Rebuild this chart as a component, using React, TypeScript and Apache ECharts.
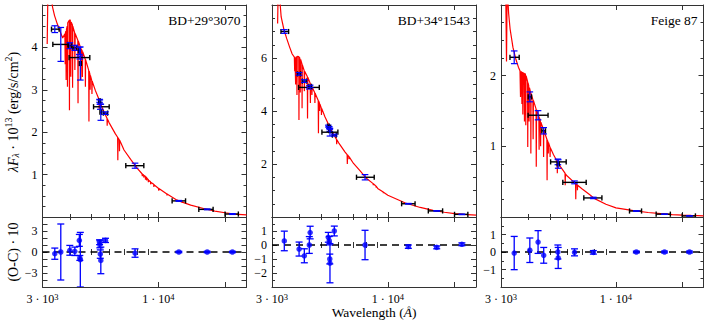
import React, { useEffect, useRef } from 'react';
import * as echarts from 'echarts';

// ---------- axis ranges / ticks ----------
const X_MIN = 3000;
const X_MAX = 25000;
const X_MAJOR_TICKS = [10000, 20000];
const X_MINOR_TICKS = [4000, 5000, 6000, 7000, 8000, 9000];
const X_LABEL_VALUES = [3000, 10000];

const STAR_NAMES = ['BD+29°3070', 'BD+34°1543', 'Feige 87'];
const FLUX_MAX = [5, 8, 3];
const FLUX_STEP = [1, 2, 1];
const FLUX_MINOR = [4, 4, 4];
const RES_MIN = [-5, -3, -2];
const RES_MAX = [5, 2, 2];
const RES_LABEL_STEP = [3, 1, 1];
const RES_MINOR = [0, 2, 2];

// ---------- BD+29°3070 ----------
const p1Wave = [3409, 3628, 3985, 4198, 4400, 4421, 4445, 5430, 5445, 5470, 5500, 5773, 7850, 12375, 16620, 21590];
const p1Flux = [4.43, 4.07, 4.04, 3.99, 3.92, 3.76, 3.62, 2.74, 2.71, 2.6, 2.47, 2.45, 1.21, 0.38, 0.18, 0.07];
const p1FluxErr = [0.08, 0.4, 0.07, 0.06, 0.085, 0.035, 0.39, 0.035, 0.05, 0.06, 0.19, 0.03, 0.06, 0.01, 0.01, 0.01];
const p1WaveLo = [3294, 3340, 3920, 4120, 4360, 3956, 4400, 5390, 5400, 5100, 5450, 5650, 7130, 11540, 15230, 20000];
const p1WaveHi = [3565, 3911, 4060, 4280, 4440, 4905, 4490, 5470, 5490, 6000, 5550, 5900, 8600, 13270, 17670, 22970];
const p1Res = [-0.24, 0.0, 0.24, 0.1, 1.66, -0.85, -1.1, 1.4, 1.1, -0.3, -1.2, 1.66, -0.15, 0.0, 0.0, 0.0];
const p1ResErr = [0.8, 4.0, 0.7, 0.6, 0.85, 0.35, 3.9, 0.35, 0.5, 0.6, 1.9, 0.3, 0.6, 0.1, 0.1, 0.1];
const p1Model: number[][] = [
  [3150, 4.08], [3175, 5.4], [3270, 5.3], [3330, 4.95], [3400, 4.75], [3500, 4.55], [3600, 4.38], [3700, 4.22],
  [3785, 4.32], [3798, 3.6], [3810, 4.36],
  [3825, 4.38], [3835, 3.23], [3848, 4.42], [3878, 4.5], [3889, 3.07], [3900, 4.58],
  [3962, 4.64], [3970, 2.52], [3980, 4.65],
  [4005, 4.64], [4026, 3.31], [4040, 4.6],
  [4095, 4.53], [4101, 3.05], [4110, 4.5],
  [4190, 4.35], [4200, 3.47], [4212, 4.33],
  [4330, 4.17], [4340, 2.68], [4352, 4.15],
  [4460, 3.99], [4471, 3.23], [4482, 3.97], [4530, 3.92], [4542, 3.3], [4555, 3.9],
  [4678, 3.72], [4686, 3.07], [4695, 3.71],
  [4850, 3.46], [4861, 2.25], [4872, 3.44],
  [4910, 3.37], [4922, 3.0], [4935, 3.34], [5005, 3.22], [5016, 2.9], [5028, 3.2],
  [5200, 2.98], [5400, 2.77], [5411, 2.55], [5422, 2.75], [5600, 2.55],
  [5865, 2.33], [5876, 2.15], [5890, 2.31], [6000, 2.22], [6400, 1.96],
  [6550, 1.88], [6563, 1.34], [6578, 1.87], [6665, 1.82], [6678, 1.55], [6692, 1.81],
  [7000, 1.58], [7500, 1.36], [8000, 1.16],
  [8440, 1.02], [8467, 0.96], [8490, 1.01], [8580, 0.99], [8598, 0.93], [8620, 0.98],
  [8730, 0.96], [8750, 0.88], [8770, 0.95], [8850, 0.93], [8863, 0.86], [8880, 0.92],
  [9000, 0.88], [9015, 0.82], [9030, 0.87], [9220, 0.83], [9229, 0.77], [9240, 0.82],
  [9530, 0.77], [9546, 0.71], [9560, 0.76], [10000, 0.68], [10040, 0.67], [10049, 0.62], [10060, 0.67],
  [10930, 0.54], [10938, 0.51], [10950, 0.54], [12000, 0.41], [12810, 0.35], [12818, 0.33], [12830, 0.35],
  [14000, 0.28], [16000, 0.2], [18000, 0.14], [20000, 0.1], [21650, 0.077], [21661, 0.07], [21675, 0.077],
  [22000, 0.07], [25000, 0.05],
];

// ---------- BD+34°1543 ----------
const p2Wave = [3409, 3975, 4198, 4421, 4460, 5387, 5440, 5470, 5480, 5733, 7890, 12375, 16620, 21590];
const p2Flux = [7.0, 5.4, 5.13, 4.89, 4.93, 3.43, 3.38, 3.26, 3.2, 3.09, 1.5, 0.5, 0.23, 0.1];
const p2FluxErr = [0.07, 0.05, 0.05, 0.06, 0.045, 0.035, 0.03, 0.035, 0.145, 0.035, 0.1, 0.012, 0.01, 0.01];
const p2WaveLo = [3294, 3910, 4110, 3956, 4400, 5340, 5390, 5420, 5040, 5620, 7220, 11540, 15230, 20000];
const p2WaveHi = [3565, 4040, 4290, 4905, 4520, 5440, 5490, 5520, 5950, 5850, 8680, 13270, 17670, 22970];
const p2Res = [0.29, -0.29, -0.77, 0.0, 0.89, 0.55, 0.31, -1.0, -1.3, 1.0, 0.0, -0.12, -0.17, 0.05];
const p2ResErr = [0.7, 0.5, 0.5, 0.6, 0.45, 0.35, 0.3, 0.35, 1.4, 0.35, 1.05, 0.12, 0.1, 0.1];
const p2Model: number[][] = [
  [3180, 7.3], [3200, 8.6], [3250, 8.25], [3300, 7.55], [3400, 7.05], [3500, 6.72], [3600, 6.42], [3700, 6.15],
  [3785, 6.03], [3798, 5.5], [3810, 6.02],
  [3825, 6.02], [3835, 5.0], [3848, 6.03], [3878, 6.05], [3889, 4.6], [3900, 6.06],
  [3962, 6.05], [3970, 3.66], [3980, 6.04],
  [4005, 6.0], [4026, 4.7], [4040, 5.95],
  [4095, 5.78], [4101, 4.1], [4110, 5.75],
  [4190, 5.53], [4200, 4.75], [4212, 5.5],
  [4330, 5.3], [4340, 3.72], [4352, 5.27],
  [4460, 5.05], [4471, 4.3], [4482, 5.02], [4530, 4.93], [4542, 4.6], [4555, 4.9],
  [4678, 4.69], [4686, 4.3], [4695, 4.67],
  [4850, 4.4], [4861, 3.16], [4872, 4.38],
  [4910, 4.3], [4922, 4.0], [4935, 4.27], [5005, 4.12], [5016, 3.85], [5028, 4.1],
  [5200, 3.78], [5400, 3.49], [5411, 3.2], [5422, 3.47], [5600, 3.22],
  [5865, 2.93], [5876, 2.75], [5890, 2.91], [6000, 2.8], [6400, 2.46],
  [6550, 2.35], [6563, 2.0], [6578, 2.34], [6665, 2.28], [6678, 2.18], [6692, 2.27],
  [7000, 2.02], [7500, 1.74], [8000, 1.46], [8580, 1.26], [8598, 1.2], [8620, 1.25],
  [8850, 1.16], [8863, 1.11], [8880, 1.15], [9000, 1.08], [9530, 0.94], [9546, 0.9], [9560, 0.93],
  [10000, 0.82], [12000, 0.53], [14000, 0.36], [16000, 0.25], [18000, 0.18], [20000, 0.13],
  [22000, 0.1], [25000, 0.07],
];

// ---------- Feige 87 ----------
const p3Wave = [3445, 4057, 4423, 4692, 5442, 5460, 6477, 7890, 12375, 16620, 21590];
const p3Flux = [2.26, 1.7, 1.44, 1.22, 0.78, 0.75, 0.49, 0.27, 0.085, 0.04, 0.015];
const p3FluxErr = [0.09, 0.07, 0.065, 0.045, 0.04, 0.06, 0.02, 0.01, 0.004, 0.003, 0.002];
const p3WaveLo = [3295, 3990, 3985, 4600, 5044, 5400, 5730, 7140, 11520, 15230, 20000];
const p3WaveHi = [3630, 4130, 4910, 4780, 5937, 5520, 7320, 8630, 13070, 17670, 22970];
const p3Res = [-0.06, 0.1, 0.57, -0.19, 0.0, -0.34, -0.02, -0.02, 0.0, 0.0, 0.0];
const p3ResErr = [0.95, 0.7, 0.65, 0.45, 0.4, 0.6, 0.2, 0.1, 0.05, 0.05, 0.05];
const p3Model: number[][] = [
  [3150, 3.3], [3178, 2.2], [3200, 3.25], [3250, 2.88], [3300, 2.66], [3400, 2.4], [3500, 2.24], [3600, 2.12],
  [3660, 2.07], [3680, 1.7], [3695, 2.06], [3720, 2.05], [3734, 1.6], [3745, 2.05],
  [3760, 2.04], [3771, 1.45], [3782, 2.04],
  [3825, 2.03], [3835, 1.35], [3845, 2.03], [3875, 2.02], [3889, 1.3], [3900, 2.0],
  [3962, 1.92], [3970, 0.99], [3980, 1.9],
  [4010, 1.86], [4026, 1.35], [4040, 1.83],
  [4095, 1.76], [4101, 0.9], [4110, 1.75],
  [4190, 1.66], [4200, 1.1], [4212, 1.65],
  [4330, 1.53], [4340, 0.71], [4352, 1.52],
  [4460, 1.42], [4471, 0.95], [4482, 1.41], [4530, 1.36], [4542, 1.0], [4555, 1.34],
  [4678, 1.24], [4686, 0.85], [4695, 1.23],
  [4850, 1.1], [4861, 0.52], [4872, 1.09],
  [4910, 1.06], [4922, 0.9], [4935, 1.05], [5005, 0.99], [5016, 0.85], [5028, 0.98],
  [5200, 0.88], [5400, 0.79], [5411, 0.62], [5422, 0.78], [5600, 0.71],
  [5865, 0.62], [5876, 0.45], [5890, 0.61], [6000, 0.58], [6400, 0.5],
  [6550, 0.47], [6563, 0.25], [6578, 0.47], [6665, 0.455], [6678, 0.38], [6692, 0.45],
  [7000, 0.4], [7500, 0.33], [8000, 0.26], [9000, 0.18], [10000, 0.13], [12000, 0.09],
  [14000, 0.064], [16000, 0.047], [18000, 0.035], [20000, 0.027], [22000, 0.022], [25000, 0.016],
];

const PANELS = [
  { wave: p1Wave, flux: p1Flux, err: p1FluxErr, lo: p1WaveLo, hi: p1WaveHi, res: p1Res, resErr: p1ResErr, model: p1Model },
  { wave: p2Wave, flux: p2Flux, err: p2FluxErr, lo: p2WaveLo, hi: p2WaveHi, res: p2Res, resErr: p2ResErr, model: p2Model },
  { wave: p3Wave, flux: p3Flux, err: p3FluxErr, lo: p3WaveLo, hi: p3WaveHi, res: p3Res, resErr: p3ResErr, model: p3Model },
];

// ---------- styling / layout ----------
const FONT = "'Liberation Serif', 'Times New Roman', serif";
const AXIS_COLOR = '#333';
const BLUE = '#0000ff';
const RED = '#ff0000';
const PANEL_LEFT = [42.5, 272, 501];
const PANEL_WIDTH = [204, 204, 202.5];
const TOP_Y = 5;
const TOP_H = 212;
const BOT_Y = 217;
const BOT_H = 70;

const fmtNum = (v: number) => {
  const r = Math.round(v * 1000) / 1000;
  return r < 0 ? '\u2212' + Math.abs(r) : String(r);
};

const X_RICH = {
  n: { fontFamily: FONT, fontSize: 12, color: '#000', lineHeight: 13, verticalAlign: 'bottom' },
  s: { fontFamily: FONT, fontSize: 8.5, color: '#000', lineHeight: 8, verticalAlign: 'top' },
};

const fmtX = (v: number) => {
  const r = Math.round(v);
  if (r === 3000) return '{n|3 · 10}{s|3}';
  if (r === 10000) return '{n|1 · 10}{s|4}';
  return '';
};

function makeXAxes(grid: number, showLabels: boolean) {
  const line = { show: true, onZero: false, lineStyle: { color: AXIS_COLOR, width: 1 } };
  const tickStyle = { color: AXIS_COLOR, width: 1 };
  const base = {
    type: 'log', logBase: 10, min: X_MIN, max: X_MAX, gridIndex: grid,
    splitLine: { show: false }, minorTick: { show: false }, minorSplitLine: { show: false },
  };
  return [
    {
      ...base, position: 'bottom', axisLine: line,
      axisTick: { show: true, inside: true, length: 5, customValues: X_MAJOR_TICKS, lineStyle: tickStyle },
      axisLabel: { show: showLabels, customValues: X_LABEL_VALUES, formatter: fmtX, rich: X_RICH, margin: 5 },
    },
    {
      ...base, position: 'bottom', axisLine: { show: false },
      axisTick: { show: true, inside: true, length: 3, customValues: X_MINOR_TICKS, lineStyle: tickStyle },
      axisLabel: { show: false },
    },
    {
      ...base, position: 'top', axisLine: line,
      axisTick: { show: true, inside: true, length: 5, customValues: X_MAJOR_TICKS, lineStyle: tickStyle },
      axisLabel: { show: false },
    },
    {
      ...base, position: 'top', axisLine: { show: false },
      axisTick: { show: true, inside: true, length: 3, customValues: X_MINOR_TICKS, lineStyle: tickStyle },
      axisLabel: { show: false },
    },
  ];
}

function makeYAxes(grid: number, min: number, max: number, interval: number, minor: number, labelStep: number) {
  const tickStyle = { color: AXIS_COLOR, width: 1 };
  const base = {
    type: 'value', gridIndex: grid, min, max, interval,
    splitLine: { show: false },
    axisLine: { show: true, onZero: false, lineStyle: { color: AXIS_COLOR, width: 1 } },
    axisTick: { show: true, inside: true, length: 5, lineStyle: tickStyle },
    minorTick: minor ? { show: true, splitNumber: minor, length: 3, lineStyle: tickStyle } : { show: false },
  };
  return [
    {
      ...base, position: 'left',
      axisLabel: {
        show: true, showMinLabel: false, showMaxLabel: false, margin: 5,
        fontFamily: FONT, fontSize: 12, color: '#000',
        formatter: (v: number) => {
          const r = Math.round(v * 1000) / 1000;
          if (r === min || r === max) return '';
          if (Math.abs(r % labelStep) > 1e-6) return '';
          return fmtNum(r);
        },
      },
    },
    { ...base, position: 'right', axisLabel: { show: false } },
  ];
}

function topBars(_params: any, api: any) {
  const x = api.value(0), y = api.value(1), e = api.value(2), lo = api.value(3), hi = api.value(4);
  const c = api.coord([x, y]);
  const t = api.coord([x, y + e]);
  const b = api.coord([x, y - e]);
  const l = api.coord([lo, y]);
  const r = api.coord([hi, y]);
  const blue = { stroke: BLUE, lineWidth: 1.2, fill: null };
  const black = { stroke: '#000', lineWidth: 1.4, fill: null };
  const cw = 3.3, ch = 2.6;
  return {
    type: 'group',
    children: [
      { type: 'line', shape: { x1: l[0], y1: c[1], x2: r[0], y2: c[1] }, style: black },
      { type: 'line', shape: { x1: l[0], y1: c[1] - ch, x2: l[0], y2: c[1] + ch }, style: black },
      { type: 'line', shape: { x1: r[0], y1: c[1] - ch, x2: r[0], y2: c[1] + ch }, style: black },
      { type: 'line', shape: { x1: c[0], y1: t[1], x2: c[0], y2: b[1] }, style: blue },
      { type: 'line', shape: { x1: c[0] - cw, y1: t[1], x2: c[0] + cw, y2: t[1] }, style: blue },
      { type: 'line', shape: { x1: c[0] - cw, y1: b[1], x2: c[0] + cw, y2: b[1] }, style: blue },
    ],
  };
}

function resBars(_params: any, api: any) {
  const x = api.value(0), y = api.value(1), e = api.value(2);
  const t = api.coord([x, y + e]);
  const b = api.coord([x, y - e]);
  const style = { stroke: BLUE, lineWidth: 1.3, fill: null };
  const cw = 3.5;
  return {
    type: 'group',
    children: [
      { type: 'line', shape: { x1: t[0], y1: t[1], x2: b[0], y2: b[1] }, style },
      { type: 'line', shape: { x1: t[0] - cw, y1: t[1], x2: t[0] + cw, y2: t[1] }, style },
      { type: 'line', shape: { x1: b[0] - cw, y1: b[1], x2: b[0] + cw, y2: b[1] }, style },
    ],
  };
}

function buildOption() {
  const grid: any[] = [];
  const xAxis: any[] = [];
  const yAxis: any[] = [];
  const series: any[] = [];

  PANELS.forEach((P, p) => {
    const gT = 2 * p;
    const gB = 2 * p + 1;
    grid.push({ left: PANEL_LEFT[p], top: TOP_Y, width: PANEL_WIDTH[p], height: TOP_H, containLabel: false });
    grid.push({ left: PANEL_LEFT[p], top: BOT_Y, width: PANEL_WIDTH[p], height: BOT_H, containLabel: false });
    xAxis.push(...makeXAxes(gT, false));
    xAxis.push(...makeXAxes(gB, true));
    yAxis.push(...makeYAxes(gT, 0, FLUX_MAX[p], FLUX_STEP[p], FLUX_MINOR[p], FLUX_STEP[p]));
    yAxis.push(...makeYAxes(gB, RES_MIN[p], RES_MAX[p], 1, RES_MINOR[p], RES_LABEL_STEP[p]));

    series.push({
      type: 'line', xAxisIndex: 4 * gT, yAxisIndex: 2 * gT, data: P.model,
      showSymbol: false, symbol: 'none', clip: true, silent: true, z: 2,
      lineStyle: { color: RED, width: 1.2 },
    });
    series.push({
      type: 'custom', xAxisIndex: 4 * gT, yAxisIndex: 2 * gT, clip: true, silent: true, z: 3,
      data: P.wave.map((w, i) => [w, P.flux[i], P.err[i], P.lo[i], P.hi[i]]),
      renderItem: topBars,
    });
    series.push({
      type: 'line', xAxisIndex: 4 * gB, yAxisIndex: 2 * gB, data: [[X_MIN, 0], [X_MAX, 0]],
      showSymbol: false, symbol: 'none', silent: true, z: 1,
      lineStyle: { color: '#000', width: 1.5, type: [7, 5] },
    });
    series.push({
      type: 'custom', xAxisIndex: 4 * gB, yAxisIndex: 2 * gB, clip: true, silent: true, z: 3,
      data: P.wave.map((w, i) => [w, P.res[i], P.resErr[i]]),
      renderItem: resBars,
    });
    series.push({
      type: 'scatter', xAxisIndex: 4 * gB, yAxisIndex: 2 * gB, silent: true, z: 4,
      data: P.wave.map((w, i) => [w, P.res[i]]),
      symbol: 'circle', symbolSize: 5.5, itemStyle: { color: BLUE },
    });
  });

  const mainRich = {
    n: { fontFamily: FONT, fontSize: 14, color: '#000', lineHeight: 17, verticalAlign: 'bottom' },
    i: { fontFamily: FONT, fontSize: 14, fontStyle: 'italic', color: '#000', lineHeight: 17, verticalAlign: 'bottom' },
    sub: { fontFamily: FONT, fontSize: 10, fontStyle: 'italic', color: '#000', lineHeight: 12, verticalAlign: 'bottom' },
    sup: { fontFamily: FONT, fontSize: 10, color: '#000', lineHeight: 10, verticalAlign: 'top' },
  };
  const xTitleRich = {
    n: { fontFamily: FONT, fontSize: 13.5, color: '#000', lineHeight: 14 },
    i: { fontFamily: FONT, fontSize: 13.5, fontStyle: 'italic', color: '#000', lineHeight: 14 },
  };

  const graphic: any[] = [
    ...STAR_NAMES.map((name, p) => ({
      type: 'text', x: PANEL_LEFT[p] + PANEL_WIDTH[p] - 6, y: 20.5, silent: true,
      style: { text: name, fontFamily: FONT, fontSize: 13.5, fill: '#000', align: 'right', verticalAlign: 'middle' },
    })),
    {
      type: 'text', x: 11.5, y: 112, rotation: Math.PI / 2, silent: true,
      style: {
        text: '{i|λF}{sub|λ}{n| · 10}{sup|13}{n| (erg/s/cm}{sup|2}{n|)}',
        rich: mainRich, align: 'center', verticalAlign: 'middle',
      },
    },
    {
      type: 'text', x: 11.5, y: 252, rotation: Math.PI / 2, silent: true,
      style: { text: '{n|(O-C) · 10}', rich: mainRich, align: 'center', verticalAlign: 'middle' },
    },
    {
      type: 'text', x: PANEL_LEFT[1] + PANEL_WIDTH[1] / 2, y: 312.5, silent: true,
      style: { text: '{n|Wavelength (}{i|Å}{n|)}', rich: xTitleRich, align: 'center', verticalAlign: 'middle' },
    },
  ];

  return {
    animation: false,
    backgroundColor: '#ffffff',
    textStyle: { fontFamily: FONT },
    grid, xAxis, yAxis, series, graphic,
  };
}

export default function App() {
  const ref = useRef<HTMLDivElement>(null);
  useEffect(() => {
    if (!ref.current) return;
    const chart = echarts.init(ref.current, undefined, { renderer: 'svg', width: 708, height: 320 });
    chart.setOption(buildOption() as any);
    return () => chart.dispose();
  }, []);
  return (
    <div
      ref={ref}
      style={{ position: 'absolute', left: 0, top: 0, width: 708, height: 320, background: '#fff' }}
    />
  );
}
